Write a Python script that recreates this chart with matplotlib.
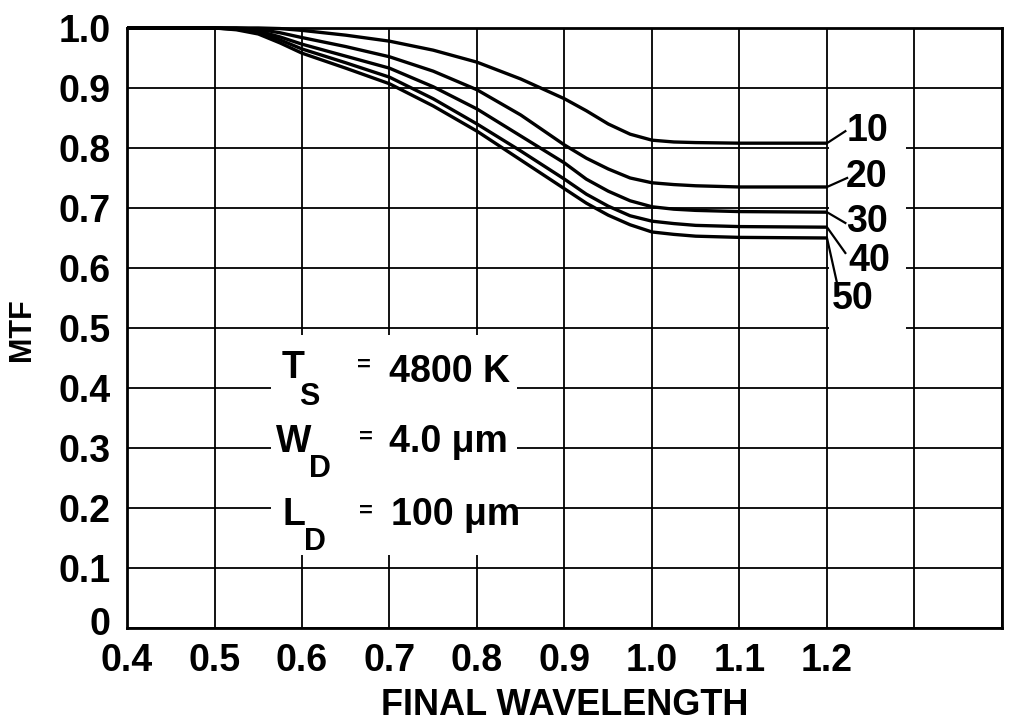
import matplotlib
matplotlib.use("Agg")
from matplotlib import pyplot as plt
from matplotlib import font_manager
from matplotlib.patches import Rectangle
from matplotlib.transforms import ScaledTranslation

# una letra estrecha y gruesa, si existe
nombres = {f.name for f in font_manager.fontManager.ttflist}
if "Liberation Sans Narrow" in nombres:
    fuente = "Liberation Sans Narrow"
else:
    fuente = "Liberation Sans"
plt.rcParams["font.family"] = [fuente, "DejaVu Sans"]
plt.rcParams["font.weight"] = "bold"
plt.rcParams["axes.labelweight"] = "bold"

# datos
longitud = [0.40, 0.50, 0.525, 0.55, 0.575, 0.60, 0.65, 0.70, 0.75, 0.80, 0.85, 0.90, 0.925, 0.95, 0.975, 1.00, 1.025, 1.05, 1.10, 1.20]
mtf_10 = [1.0, 1.0, 1.0, 1.0, 0.999, 0.996, 0.988, 0.978, 0.963, 0.943, 0.915, 0.882, 0.862, 0.840, 0.823, 0.813, 0.810, 0.809, 0.808, 0.808]
mtf_20 = [1.0, 1.0, 1.0, 0.998, 0.992, 0.984, 0.969, 0.952, 0.928, 0.897, 0.855, 0.805, 0.783, 0.765, 0.750, 0.742, 0.739, 0.737, 0.735, 0.735]
mtf_30 = [1.0, 1.0, 0.999, 0.995, 0.985, 0.973, 0.953, 0.933, 0.902, 0.865, 0.820, 0.775, 0.748, 0.728, 0.712, 0.702, 0.698, 0.696, 0.694, 0.693]
mtf_40 = [1.0, 1.0, 0.998, 0.993, 0.980, 0.965, 0.942, 0.918, 0.882, 0.840, 0.795, 0.748, 0.723, 0.703, 0.687, 0.678, 0.674, 0.671, 0.669, 0.668]
mtf_50 = [1.0, 1.0, 0.997, 0.990, 0.975, 0.958, 0.933, 0.907, 0.870, 0.828, 0.780, 0.732, 0.708, 0.688, 0.672, 0.660, 0.656, 0.653, 0.651, 0.650]
curvas = [mtf_10, mtf_20, mtf_30, mtf_40, mtf_50]
etiquetas = ["10", "20", "30", "40", "50"]

xticks = [0.4, 0.5, 0.6, 0.7, 0.8, 0.9, 1.0, 1.1, 1.2, 1.3, 1.4]
xlabels = ["0.4", "0.5", "0.6", "0.7", "0.8", "0.9", "1.0", "1.1", "1.2", "", ""]
yticks = [0, 0.1, 0.2, 0.3, 0.4, 0.5, 0.6, 0.7, 0.8, 0.9, 1.0]
ylabels = ["0", "0.1", "0.2", "0.3", "0.4", "0.5", "0.6", "0.7", "0.8", "0.9", "1.0"]

fig = plt.figure(figsize=(10.12, 7.21), dpi=100)
ax = fig.add_axes([0.1255, 0.129, 0.8646, 0.8322])

for c in curvas:
    ax.plot(longitud, c, color="black", lw=2.4, zorder=4, clip_on=False,
            solid_capstyle="butt", solid_joinstyle="round")

# lineas guia hacia las etiquetas
fin = [c[-1] for c in curvas]
punta = [(1.221, 0.828), (1.223, 0.750), (1.221, 0.675), (1.221, 0.625), (1.211, 0.578)]
pos_txt = [(1.222, 0.828), (1.222, 0.752), (1.222, 0.676), (1.224, 0.611), (1.206, 0.548)]
for y0, (px, py), (tx, ty), lab in zip(fin, punta, pos_txt, etiquetas):
    ax.plot([1.2, px], [y0, py], color="black", lw=1.6, zorder=4)
    ax.text(tx, ty, lab, fontsize=27, ha="left", va="center", zorder=5)

# huecos blancos en la reticula
ax.add_patch(Rectangle((1.202, 0.49), 0.088, 0.37, facecolor="white", edgecolor="none", zorder=2))
ax.add_patch(Rectangle((0.565, 0.122), 0.281, 0.366, facecolor="white", edgecolor="none", zorder=2))

# parametros
ax.text(0.590, 0.417, "T", fontsize=27, ha="center", va="baseline", zorder=5)
ax.text(0.608, 0.372, "S", fontsize=22, ha="center", va="baseline", zorder=5)
ax.text(0.671, 0.438, "=", fontsize=17, ha="center", va="center", zorder=5)
ax.text(0.700, 0.410, "4800 K", fontsize=27, ha="left", va="baseline", zorder=5)
ax.text(0.591, 0.293, "W", fontsize=27, ha="center", va="baseline", zorder=5)
ax.text(0.621, 0.252, "D", fontsize=22, ha="center", va="baseline", zorder=5)
ax.text(0.673, 0.318, "=", fontsize=17, ha="center", va="center", zorder=5)
ax.text(0.700, 0.293, "4.0 \u03bcm", fontsize=27, ha="left", va="baseline", zorder=5)
ax.text(0.591, 0.172, "L", fontsize=27, ha="center", va="baseline", zorder=5)
ax.text(0.615, 0.130, "D", fontsize=22, ha="center", va="baseline", zorder=5)
ax.text(0.673, 0.195, "=", fontsize=17, ha="center", va="center", zorder=5)
ax.text(0.702, 0.172, "100 \u03bcm", fontsize=27, ha="left", va="baseline", zorder=5)

ax.set_xlim(0.4, 1.4)
ax.set_ylim(0, 1.0)
ax.set_xticks(xticks)
ax.set_xticklabels(xlabels)
ax.set_yticks(yticks)
ax.set_yticklabels(ylabels)
ax.tick_params(length=0, labelsize=27)
ax.tick_params(axis="x", pad=11)
ax.tick_params(axis="y", pad=12)
ax.grid(True, color="black", lw=1.3)
for s in ax.spines.values():
    s.set_linewidth(2.0)

# el "0" del eje y queda un poco mas arriba
cero = ax.get_yticklabels()[0]
cero.set_transform(cero.get_transform() + ScaledTranslation(0, 5 / 72, fig.dpi_scale_trans))

ax.set_xlabel("FINAL WAVELENGTH", fontsize=26, labelpad=6)
fig.text(22 / 1012, 1 - 330 / 721, "MTF", rotation=90, fontsize=22, ha="center", va="center")

fig.savefig("out.png", dpi=100)
